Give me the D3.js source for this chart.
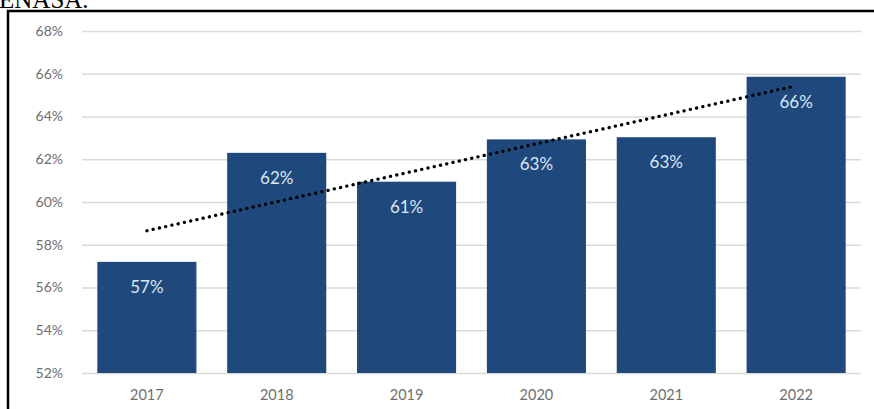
<!DOCTYPE html>
<html lang="en">
<head>
<meta charset="UTF-8">
<title>Bar chart</title>
<style>
    body { margin: 0; background: #fff; }
    .tick text { font-family: Lato, "Liberation Sans", sans-serif; fill: #6e6e6e; }
</style>
</head>
<body>
<svg width="874" height="409" id="chart"></svg>
<script src="https://d3js.org/d3.v7.min.js"></script>
<script>
    // data
    const years = ['2017', '2018', '2019', '2020', '2021', '2022'];
    const shares = [57.2, 62.3, 60.95, 62.93, 63.03, 65.86];
    const yTicks = [52, 54, 56, 58, 60, 62, 64, 66, 68];

    const svg = d3.select('#chart');
    const plotLeft = 82, plotRight = 861, plotTop = 31, plotBottom = 373;

    // cut-off text of the page above the chart
    svg.append('text')
        .attr('x', -1).attr('y', 8)
        .attr('font-family', '"Liberation Serif", serif')
        .attr('font-size', 25)
        .attr('fill', '#000')
        .text('ENASA.');

    // frame
    svg.append('path')
        .attr('d', 'M8,409 V11 H874')
        .attr('fill', 'none')
        .attr('stroke', '#000')
        .attr('stroke-width', 2.5);

    const x = d3.scaleBand().domain(years).range([plotLeft, plotRight]).paddingInner(0.237).paddingOuter(0.118);
    const y = d3.scaleLinear().domain([52, 68]).range([plotBottom, plotTop]);

    // gridlines + y labels
    const yAxis = svg.append('g')
        .attr('transform', `translate(${plotLeft},0)`)
        .call(d3.axisLeft(y).tickValues(yTicks).tickFormat(d => d + '%').tickSize(-(plotRight - plotLeft)).tickPadding(19));
    yAxis.select('.domain').remove();
    yAxis.selectAll('.tick line').attr('stroke', '#dadada').attr('stroke-width', 1.5);
    yAxis.selectAll('.tick text').attr('font-size', 14);

    // bars
    svg.selectAll('.bar')
        .data(years)
        .enter().append('rect')
        .attr('class', 'bar')
        .attr('x', d => x(d))
        .attr('width', x.bandwidth())
        .attr('y', (d, i) => y(shares[i]))
        .attr('height', (d, i) => y(52) - y(shares[i]))
        .attr('fill', '#1f497d');

    // value labels
    svg.selectAll('.lbl')
        .data(years)
        .enter().append('text')
        .attr('class', 'lbl')
        .attr('x', d => x(d) + x.bandwidth() / 2)
        .attr('y', (d, i) => y(shares[i]) + 31)
        .attr('text-anchor', 'middle')
        .attr('font-family', 'Lato, "Liberation Sans", sans-serif')
        .attr('font-size', 17)
        .attr('fill', '#dce6f2')
        .text((d, i) => Math.round(shares[i]) + '%');

    // x labels
    const xAxis = svg.append('g')
        .attr('transform', `translate(0,${plotBottom})`)
        .call(d3.axisBottom(x).tickSize(0).tickPadding(17));
    xAxis.select('.domain').remove();
    xAxis.selectAll('.tick text').attr('font-size', 14.5);

    // linear trendline (least squares over the bars)
    const idx = shares.map((v, i) => i + 1);
    const mx = d3.mean(idx), my = d3.mean(shares);
    const slope = d3.sum(idx, (k, i) => (k - mx) * (shares[i] - my)) / d3.sum(idx, k => (k - mx) * (k - mx));
    const trend = [0, years.length - 1].map(i => ({ year: years[i], v: my + slope * (i + 1 - mx) }));

    svg.append('path')
        .datum(trend)
        .attr('d', d3.line().x(d => x(d.year) + x.bandwidth() / 2).y(d => y(d.v)))
        .attr('fill', 'none')
        .attr('stroke', '#000')
        .attr('stroke-width', 3.3)
        .attr('stroke-linecap', 'round')
        .attr('stroke-dasharray', '0.1,6.3');
</script>
</body>
</html>
